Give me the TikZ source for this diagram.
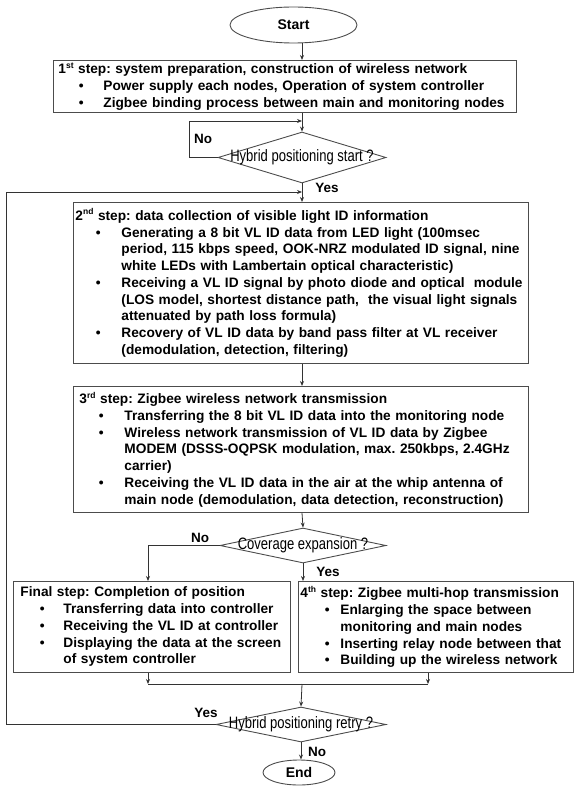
\documentclass[tikz,border=0pt]{standalone}
\usepackage{fontspec}
\setmainfont{Liberation Sans}
\newfontfamily\narrowfont{Liberation Sans}[FakeStretch=0.79]
\usetikzlibrary{shapes.geometric,arrows.meta}
\frenchspacing
\newlength\bulind
\newlength\txtind
\newlength\hdind
\newcommand\bi[1]{\makebox[\txtind][l]{\hspace{\bulind}\textbullet}\mbox{#1}}
\newcommand\ci[1]{\hspace*{\txtind}\mbox{#1}}
\newcommand\hi[1]{\hspace*{\hdind}\mbox{#1}}
\newcommand\ind[3]{\setlength\hdind{#1}\setlength\bulind{#2}\setlength\txtind{#3}}
\newcommand\sups[1]{\raisebox{5.5pt}{\fontsize{8.5}{9}\selectfont #1}}
\tikzset{
  stepbox/.style={draw=black!70, line width=0.9pt, inner xsep=0pt, inner ysep=0pt,
    anchor=north west, align=left, font=\bfseries\fontsize{13.7}{16.75}\selectfont},
  dec/.style={diamond, draw=black!70, line width=0.9pt, inner sep=0pt,
    font=\narrowfont\fontsize{16.5}{17}\selectfont},
  term/.style={ellipse, draw=black!70, line width=0.9pt, inner sep=0pt,
    font=\bfseries\fontsize{14}{16}\selectfont},
  arr/.style={draw=black!80, line width=0.8pt, -{Stealth[length=5pt,width=4pt]}},
  ln/.style={draw=black!80, line width=0.8pt},
  lab/.style={font=\bfseries\fontsize{13.5}{15}\selectfont, inner sep=0pt}
}
\begin{document}
\begin{tikzpicture}[x=1pt,y=-1pt]
\useasboundingbox (0,0) rectangle (574,786);
\coordinate (ax) at (302,0);
\node[term, minimum width=127pt, minimum height=36pt] (st) at (293.5,25) {Start};
\node[stepbox, text width=463pt, minimum height=52pt] (b1) at (53,60) {\ind{5pt}{25.5pt}{50pt}%
\hi{1\sups{st} step: system preparation, construction of wireless network}\\
\bi{Power supply each nodes, Operation of system controller}\\
\bi{Zigbee binding process between main and monitoring nodes}};
\node[dec, minimum width=168pt, minimum height=51pt] (d1) at (302,157.5) {\makebox[0pt]{Hybrid positioning start ?}};
\node[stepbox, text width=455pt, minimum height=161pt] (b2) at (73,202) {\ind{2pt}{22.5pt}{48pt}%
\hi{2\sups{nd} step: data collection of visible light ID information}\\
\bi{Generating a 8 bit VL ID data from LED light (100msec}\\
\ci{period, 115 kbps speed, OOK-NRZ modulated ID signal, nine}\\
\ci{white LEDs with Lambertain optical characteristic)}\\
\bi{Receiving a VL ID signal by photo diode and optical\ \ module}\\
\ci{(LOS model, shortest distance path,\ \ the visual light signals}\\
\ci{attenuated by path loss formula)}\\
\bi{Recovery of VL ID data by band pass filter at VL receiver}\\
\ci{(demodulation, detection, filtering)}};
\node[stepbox, text width=455pt, minimum height=126pt] (b3) at (73,386) {\ind{6pt}{25.5pt}{51pt}%
\hi{3\sups{rd} step: Zigbee wireless network transmission}\\
\bi{Transferring the 8 bit VL ID data into the monitoring node}\\
\bi{Wireless network transmission of VL ID data by Zigbee}\\
\ci{MODEM (DSSS-OQPSK modulation, max. 250kbps, 2.4GHz}\\
\ci{carrier)}\\
\bi{Receiving the VL ID data in the air at the whip antenna of}\\
\ci{main node (demodulation, data detection, reconstruction)}};
\node[dec, minimum width=166pt, minimum height=35pt] (d2) at (303,545.5) {\makebox[0pt]{Coverage expansion ?}};
\node[stepbox, text width=277pt, minimum height=91pt] (fin) at (13,581) {\ind{7pt}{26.5pt}{50pt}%
\hi{Final step: Completion of position}\\
\bi{Transferring data into controller}\\
\bi{Receiving the VL ID at controller}\\
\bi{Displaying the data at the screen}\\
\ci{of system controller}};
\node[stepbox, text width=275pt, minimum height=91pt] (b4) at (298,581) {\ind{2pt}{26.5pt}{42pt}%
\hi{4\sups{th} step: Zigbee multi-hop transmission}\\
\bi{Enlarging the space between}\\
\ci{monitoring and main nodes}\\
\bi{Inserting relay node between that}\\
\bi{Building up the wireless network}};
\node[dec, minimum width=170pt, minimum height=35pt] (d3) at (301,724.5) {\makebox[0pt]{Hybrid positioning retry ?}};
\node[term, minimum width=72pt, minimum height=25pt] (en) at (299,772.5) {End};
\coordinate (j1) at (302,121);
\coordinate (j2) at (302,192);
\coordinate (j3) at (302,684);
\coordinate (j4) at (428,684);
% connectors
\draw[arr] (st.south -| ax) -- (b1.north -| ax);
\draw[arr] (b1.south -| ax) -- (d1.north);
\draw[arr] (d1.west) -- ++(-28,0) |- (j1);
\draw[arr] (d1.south) -- (b2.north -| ax);
\draw[arr] (d3.west) -- (6,724.5) |- (j2);
\draw[arr] (b2.south -| ax) -- (b3.north -| ax);
\draw[arr] (b3.south -| ax) -- (d2.north);
\draw[arr] (d2.west) -| (fin.north -| 148,0);
\draw[arr] (d2.south) -- (b4.north -| d2.south);
\draw[arr] (fin.south -| 148,0) -- (148,684);
\draw[arr] (b4.south -| j4) -- (j4);
\draw[ln] (148,684) -- (j4);
\draw[arr] (j3) -- (d3.north);
\draw[arr] (d3.south) -- (en.north -| d3.south);
% labels
\node[lab] (l1) at (203,139) {No};
\node[lab] (l2) at (327,188) {Yes};
\node[lab] (l3) at (200,538) {No};
\node[lab] (l4) at (328,572) {Yes};
\node[lab] (l5) at (206,713) {Yes};
\node[lab] (l6) at (317,752) {No};
\end{tikzpicture}
\end{document}
